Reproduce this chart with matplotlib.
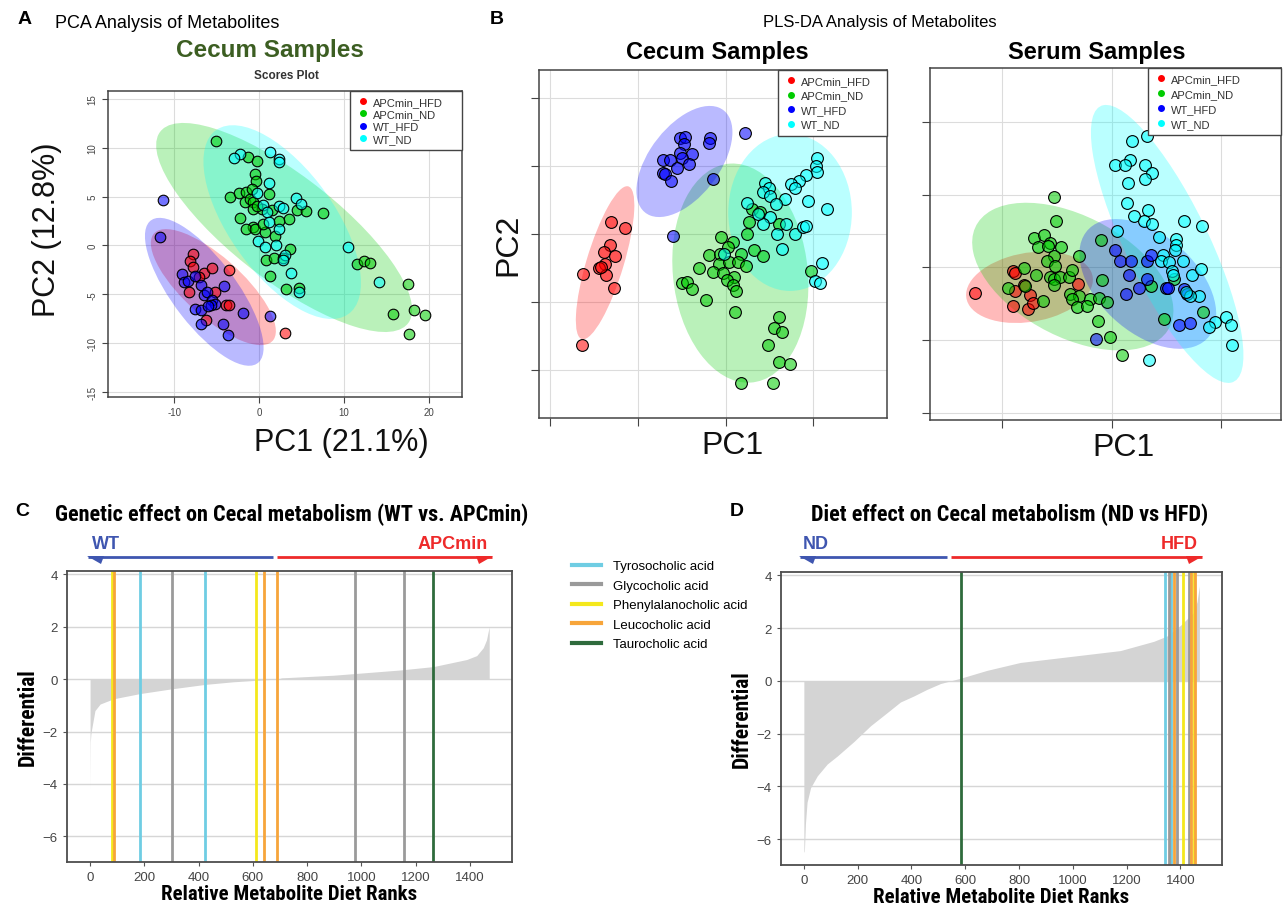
import matplotlib
matplotlib.use('Agg')
import matplotlib.pyplot as plt
from matplotlib.patches import Ellipse, Polygon
from matplotlib.lines import Line2D

plt.rcParams['font.family'] = ['Liberation Sans', 'DejaVu Sans']
plt.rcParams['axes.unicode_minus'] = False
NARROW = ['Roboto Condensed', 'DejaVu Sans']

W, H = 1286, 912

GROUPS = ['APCmin_HFD', 'APCmin_ND', 'WT_HFD', 'WT_ND']
GROUP_COLORS = ['#FF0000', '#00CC00', '#0000FF', '#00FFFF']

# ---- A: PCA, cecum ----
a_hfd_x = [-7.8, -8.1, -7.8, -6.5, -5.6, -3.5, -8.3, -5.2, -3.9, -3.5, -6.3, 3.1, -7.1]
a_hfd_y = [-0.85, -1.6, -2.2, -2.8, -2.3, -2.5, -4.8, -4.8, -6.1, -6.1, -7.6, -9.0, -3.2]
a_nd_x = [-5.1, -1.3, -0.3, -0.5, -0.4, -3.4, -2.4, -1.5, -1.7, -1.1, -0.7, 1.2, -0.7, 0.3, 1.5,
          4.5, 5.5, 7.5, 3.5, 2.4, -2.2, -0.7, -1.5, -0.5, 0.7, 1.9, 3.6, 0.8, 1.8, 2.8, 1.3,
          3.2, 4.7, 11.5, 12.3, 13.1, 17.5, 15.8, 18.2, 19.6, 17.7, -0.8, -0.2, 0.5]
a_nd_y = [10.7, 9.1, 8.6, 7.3, 6.6, 5.0, 5.4, 5.5, 4.4, 4.8, 4.4, 5.3, 3.7, 3.7, 3.6,
          3.6, 3.5, 3.3, 2.7, 2.5, 2.8, 1.9, 1.7, 1.7, 1.4, 1.0, -0.4, -1.5, -1.3, -1.3, -3.1,
          -4.5, -4.4, -1.9, -1.6, -1.8, -3.9, -7.0, -6.6, -7.1, -9.1, 5.8, 4.0, 2.2]
a_wthfd_x = [-11.3, -11.7, -9.1, -8.8, -8.4, -7.6, -6.9, -6.5, -6.1, -5.5, -5.2, -5.7, -7.5,
             -6.9, -4.1, -1.9, 1.3, -6.8, -4.3, -3.7, -6.0]
a_wthfd_y = [4.7, 0.85, -2.9, -3.7, -3.6, -3.1, -4.0, -5.1, -4.8, -5.6, -6.0, -6.1, -6.5,
             -6.6, -4.1, -6.9, -7.2, -8.0, -8.0, -9.2, -6.2]
a_wtnd_x = [-2.3, -2.9, 1.3, 2.4, 2.4, 1.2, 4.3, 4.9, 2.4, 2.8, 0.5, 0.9, 1.2, 2.4, -0.1,
            0.7, 2.0, 3.0, 3.7, 4.7, 10.5, 14.1, 2.8, -0.2]
a_wtnd_y = [9.4, 8.9, 9.6, 8.8, 8.5, 6.4, 4.9, 4.2, 4.0, 3.8, 4.1, 3.4, 2.4, 1.7, 0.5,
            -0.2, 0.0, -1.0, -2.8, -4.8, -0.2, -3.7, -1.5, 5.4]
# ellipses: (cx, cy, width, height, angle)
a_ellipses = [(-5.39, -4.26, 17.8, 6.4, -37), (2.95, 1.84, 35.2, 11.3, -33),
              (-6.46, -4.74, 19.3, 7.2, -48), (2.72, 2.39, 24.5, 11.7, -48)]

# ---- B: PLS-DA, cecum ----
bc_hfd_x = [-1.31, -1.15, -1.32, -1.39, -1.26, -1.38, -1.44, -1.63, -1.37, -1.27, -1.64, -1.42]
bc_hfd_y = [0.18, 0.08, -0.17, -0.27, -0.33, -0.45, -0.50, -0.59, -0.60, -0.80, -1.63, -0.49]
bc_nd_x = [-0.05, 0.08, 0.03, -0.19, -0.06, 0.18, -0.08, 0.04, 0.14, 0.23, -0.31, -0.14, -0.03,
           0.09, 0.01, 0.08, 0.12, -0.50, -0.44, -0.38, -0.22, 0.11, 0.32, 0.43, 0.24, 0.27,
           0.30, 0.39, 0.61, 0.97, 0.61, 0.55, 0.64, 0.48, 0.61, 0.73, 0.17, 0.54]
bc_nd_y = [-0.04, -0.12, -0.20, -0.31, -0.29, -0.29, -0.45, -0.42, -0.42, -0.47, -0.50, -0.56,
           -0.57, -0.64, -0.68, -0.75, -0.84, -0.72, -0.71, -0.81, -0.97, -1.15, -0.24, -0.33,
           0.00, 0.18, 0.37, 0.32, 0.15, -0.55, -1.23, -1.39, -1.44, -1.64, -1.88, -1.91, -2.19, -2.19]
bc_wthfd_x = [-0.52, -0.47, -0.48, -0.18, -0.19, 0.22, -0.52, -0.39, -0.71, -0.63, -0.50, -0.42,
              -0.56, -0.71, -0.69, -0.62, -0.15, -0.60]
bc_wthfd_y = [1.41, 1.42, 1.32, 1.41, 1.33, 1.48, 1.19, 1.17, 1.09, 1.09, 1.12, 1.03, 0.97,
              0.90, 0.88, 0.78, 0.80, -0.03]
bc_wtnd_x = [1.04, 1.03, 1.04, 0.92, 0.84, 0.75, 0.79, 0.45, 0.49, 0.42, 0.51, 0.68, 0.57, 0.94,
             1.15, 0.24, 0.50, 0.42, 0.69, 0.59, 0.79, 0.88, 0.92, 0.64, -0.02, 1.10, 1.02, 1.08, 0.37]
bc_wtnd_y = [1.11, 1.00, 0.91, 0.87, 0.78, 0.73, 0.68, 0.75, 0.67, 0.62, 0.56, 0.51, 0.44, 0.48,
             0.36, 0.46, 0.25, 0.15, 0.15, -0.01, 0.00, 0.10, 0.11, -0.23, -0.29, -0.43, -0.69, -0.72, 0.29]
bc_ellipses = [(-1.376, -0.426, 2.31, 0.43, 77), (0.167, -0.578, 3.23, 1.54, 94),
               (-0.471, 1.064, 1.77, 0.86, 64), (0.734, 0.314, 1.41, 2.31, 0)]

# ---- B: PLS-DA, serum ----
bs_hfd_x = [-1.25, -0.90, -0.88, -0.88, -0.80, -0.75, -0.90, -0.76, -0.72, -0.31]
bs_hfd_y = [-0.35, -0.05, -0.08, -0.33, -0.25, -0.38, -0.53, -0.58, -0.49, -0.23]
bs_nd_x = [-0.53, -0.51, -0.71, -0.62, -0.56, -0.67, -0.58, -0.46, -0.53, -0.59, -0.52, -0.30,
           -0.80, -0.69, -0.56, -0.53, -0.47, -0.39, -0.36, -0.53, -0.95, -0.79, -0.63, -0.38,
           -0.30, -0.36, -0.32, -0.20, -0.22, -0.11, -0.04, -0.09, -0.10, -0.12, -0.01, 0.10,
           0.36, 0.48, 0.57, 0.84]
bs_nd_y = [0.96, 0.63, 0.40, 0.44, 0.34, 0.28, 0.29, 0.28, 0.15, 0.09, 0.02, 0.15, -0.01, -0.11,
           -0.14, -0.16, -0.14, -0.14, -0.04, -0.25, -0.28, -0.26, -0.47, -0.37, -0.39, -0.44,
           -0.54, -0.43, -0.53, -0.42, -0.48, -0.18, 0.38, -0.74, -0.96, -1.21, -0.26, -0.71,
           -0.16, -0.61]
bs_wthfd_x = [0.03, 0.08, 0.18, 0.32, 0.36, 0.16, 0.32, 0.25, 0.13, 0.50, 0.52, 0.66, 0.69,
              0.62, 0.72, -0.14]
bs_wthfd_y = [0.24, 0.09, 0.08, 0.09, 0.17, -0.10, -0.16, -0.29, -0.37, -0.28, -0.28, -0.30,
              -0.37, -0.79, -0.76, -0.98]
bs_wtnd_x = [0.32, 0.19, 0.17, 0.03, 0.12, 0.31, 0.37, 0.31, 0.15, 0.14, 0.33, 0.21, 0.30, 0.37,
             0.66, 0.83, 0.05, 0.43, 0.59, 0.59, 0.58, 0.47, 0.45, 0.53, 0.65, 0.55, 0.56, 0.74,
             0.82, 0.80, 0.72, 0.68, 0.95, 1.05, 0.89, 1.09, 1.10, 0.34]
bs_wtnd_y = [1.80, 1.73, 1.48, 1.41, 1.41, 1.41, 1.30, 1.22, 1.16, 0.89, 0.79, 0.70, 0.64, 0.59,
             0.64, 0.57, 0.50, 0.41, 0.39, 0.30, 0.24, 0.17, 0.09, 0.07, 0.09, -0.05, -0.11, -0.11,
             -0.02, -0.40, -0.40, -0.34, -0.75, -0.69, -0.82, -0.79, -1.07, -1.28]
bs_ellipses = [(-0.75, -0.275, 1.21, 0.92, 26), (-0.354, -0.128, 2.35, 1.41, -51),
               (0.332, -0.229, 1.92, 1.03, -64), (0.509, 0.321, 3.99, 0.80, -73)]

# ---- C / D: ranked differentials ----
c_rank = [0, 1, 3, 6, 18, 37, 86, 184, 300, 424, 528, 650, 690, 706, 896, 1019, 1142, 1265,
          1388, 1425, 1449, 1461, 1471]
c_diff = [-4.2, -2.4, -2.1, -1.9, -1.2, -0.95, -0.75, -0.55, -0.37, -0.2, -0.1, -0.02, 0.0,
          0.05, 0.15, 0.25, 0.35, 0.48, 0.75, 0.9, 1.2, 1.5, 2.0]
d_rank = [0, 2, 6, 12, 25, 50, 87, 124, 186, 248, 310, 359, 409, 458, 508, 545, 582, 681, 805,
          929, 1053, 1177, 1301, 1350, 1400, 1450, 1462, 1471]
d_diff = [-6.5, -6.45, -5.4, -4.6, -4.05, -3.6, -3.15, -2.85, -2.3, -1.7, -1.2, -0.8, -0.57,
          -0.32, -0.1, 0.0, 0.1, 0.4, 0.7, 0.85, 1.0, 1.15, 1.5, 1.7, 2.1, 2.6, 3.0, 3.6]

ACIDS = ['Tyrosocholic acid', 'Glycocholic acid', 'Phenylalanocholic acid',
         'Leucocholic acid', 'Taurocholic acid']
ACID_COLORS = ['#6fcde3', '#9a9a9a', '#f4e81c', '#f7a53a', '#2f6b3c']
c_acid_ranks = [[185, 424], [302, 978, 1158], [80, 612], [87, 642, 689], [1264]]
d_acid_ranks = [[1342, 1366], [1357, 1388, 1431], [1410, 1450], [1378, 1441, 1456], [585]]


fig = plt.figure(figsize=(W / 100, H / 100), dpi=100)


def px_axes(l, t, r, b):
    return fig.add_axes([l / W, 1 - b / H, (r - l) / W, (b - t) / H])


def ftext(x, y, s, **kw):
    fig.text(x / W, 1 - y / H, s, **kw)


def scores_panel(ax, xs, ys, ellipses, leg_box, size=60, spacing=0.3):
    for (cx, cy, w, h, ang), col in zip(ellipses, GROUP_COLORS):
        ax.add_patch(Ellipse((cx, cy), w, h, angle=ang, facecolor=col, alpha=0.27,
                             lw=0, zorder=1))
    for x, y, col in zip(xs, ys, GROUP_COLORS):
        ax.scatter(x, y, s=size, facecolor=matplotlib.colors.to_rgba(col, 0.55),
                   edgecolor='black', linewidth=0.8, zorder=3)
    ax.grid(True, color='#dcdcdc', lw=0.8, zorder=0)
    ax.set_axisbelow(True)
    for sp in ax.spines.values():
        sp.set_color('#444444')
        sp.set_linewidth(1.1)
    handles = [Line2D([], [], marker='o', ls='', color=c, markersize=4) for c in GROUP_COLORS]
    leg = ax.legend(handles, GROUPS, loc='upper left', bbox_to_anchor=leg_box, mode='expand',
                    borderaxespad=0, fancybox=False, edgecolor='#444444', framealpha=1,
                    fontsize=8, handletextpad=0.3, labelspacing=spacing,
                    borderpad=0.55, handlelength=1.2)
    leg.get_frame().set_linewidth(1.0)
    for t in leg.get_texts():
        t.set_color('#333333')


# ---- Panel A ----
axA = px_axes(108, 92, 462, 398)
scores_panel(axA, [a_hfd_x, a_nd_x, a_wthfd_x, a_wtnd_x],
             [a_hfd_y, a_nd_y, a_wthfd_y, a_wtnd_y], a_ellipses,
             (0.684, 1.0, 0.316, 0.0), size=58, spacing=0.2)
axA.set_xlim(-17.8, 23.9)
axA.set_ylim(-15.5, 15.8)
axA.set_xticks([-10, 0, 10, 20])
axA.set_yticks([-15, -10, -5, 0, 5, 10, 15])
axA.tick_params(labelsize=7, colors='#444444', length=4)
for lab in axA.get_yticklabels():
    lab.set_rotation(90)
    lab.set_va('center')
axA.set_xlabel('PC1 (21.1%)', fontsize=22, color='#111111')
axA.xaxis.set_label_coords(0.66, -0.097)
axA.set_ylabel('PC2 (12.8%)', fontsize=22, color='#111111')
axA.yaxis.set_label_coords(-0.13, 0.55)
ftext(18, 20, 'A', fontsize=14, fontweight='bold', va='center')
ftext(55, 24, 'PCA Analysis of Metabolites', fontsize=13, va='center')
ftext(270, 50, 'Cecum Samples', fontsize=17.5, fontweight='bold', color='#3c5e22',
      ha='center', va='center')
ftext(286, 76, 'Scores Plot', fontsize=8.5, fontweight='bold', color='#333333',
      ha='center', va='center')

# ---- Panel B ----
axBc = px_axes(539, 71, 887, 419)
scores_panel(axBc, [bc_hfd_x, bc_nd_x, bc_wthfd_x, bc_wtnd_x],
             [bc_hfd_y, bc_nd_y, bc_wthfd_y, bc_wtnd_y], bc_ellipses,
             (0.687, 1.0, 0.313, 0.0), size=72, spacing=0.4)
axBc.set_xlim(-2.13, 1.84)
axBc.set_ylim(-2.71, 2.41)
axBc.set_xticks([-2, -1, 0, 1])
axBc.set_yticks([-2, -1, 0, 1, 2])

axBs = px_axes(930, 69, 1281, 421)
scores_panel(axBs, [bs_hfd_x, bs_nd_x, bs_wthfd_x, bs_wtnd_x],
             [bs_hfd_y, bs_nd_y, bs_wthfd_y, bs_wtnd_y], bs_ellipses,
             (0.621, 1.0, 0.379, 0.0), size=72, spacing=0.45)
axBs.set_xlim(-1.66, 1.55)
axBs.set_ylim(-2.10, 2.74)
axBs.set_xticks([-1, 0, 1])
axBs.set_yticks([-2, -1, 0, 1, 2])

for ax, xc in ((axBc, 0.557), (axBs, 0.55)):
    ax.tick_params(labelbottom=False, labelleft=False, length=6, color='#444444')
    ax.set_xlabel('PC1', fontsize=23, color='#111111')
    ax.xaxis.set_label_coords(xc, -0.035)
axBc.set_ylabel('PC2', fontsize=23, labelpad=5, color='#111111')

ftext(490, 20, 'B', fontsize=14, fontweight='bold', va='center')
ftext(880, 22, 'PLS-DA Analysis of Metabolites', fontsize=12, ha='center', va='center')
ftext(717, 52, 'Cecum Samples', fontsize=17, fontweight='bold', ha='center', va='center')
ftext(1097, 52, 'Serum Samples', fontsize=17, fontweight='bold', ha='center', va='center')


# ---- Panels C and D ----
def rank_panel(ax, ranks, diffs, acid_ranks):
    ax.fill_between(ranks, diffs, 0, color='#d4d4d4', lw=0, zorder=1)
    for rks, col in zip(acid_ranks, ACID_COLORS):
        for r in rks:
            ax.axvline(r, color=col, lw=2.0, zorder=2)
    ax.set_xlim(-85, 1555)
    ax.set_ylim(-6.98, 4.13)
    ax.set_xticks([0, 200, 400, 600, 800, 1000, 1200, 1400])
    ax.set_yticks([-6, -4, -2, 0, 2, 4])
    ax.set_yticklabels(['\u22126', '\u22124', '\u22122', '0', '2', '4'])
    ax.yaxis.grid(True, color='#d6d6d6', lw=1.0, zorder=0)
    ax.set_axisbelow(True)
    ax.tick_params(labelsize=9.5, colors='#555555', length=3)
    for lab in ax.get_xticklabels() + ax.get_yticklabels():
        lab.set_color('#444444')
    for sp in ax.spines.values():
        sp.set_color('#4d4d4d')
        sp.set_linewidth(1.3)
    ax.set_xlabel('Relative Metabolite Diet Ranks', fontsize=15, fontweight='bold',
                  family=NARROW, labelpad=1)
    ax.set_ylabel('Differential', fontsize=15.5, fontweight='bold', family=NARROW, labelpad=3)


axC = px_axes(67, 572, 512, 863)
rank_panel(axC, c_rank, c_diff, c_acid_ranks)
axD = px_axes(781, 573, 1222, 866)
rank_panel(axD, d_rank, d_diff, d_acid_ranks)

ftext(15, 512, 'C', fontsize=14, fontweight='bold', va='center')
ftext(292, 515, 'Genetic effect on Cecal metabolism (WT vs. APCmin)', fontsize=16,
      fontweight='bold', family=NARROW, ha='center', va='center')
ftext(730, 512, 'D', fontsize=14, fontweight='bold', va='center')
ftext(1010, 515, 'Diet effect on Cecal metabolism (ND vs HFD)', fontsize=16,
      fontweight='bold', family=NARROW, ha='center', va='center')

# legend for acids
handles = [Line2D([], [], color=c, lw=3) for c in ACID_COLORS]
fig.legend(handles, ACIDS, loc='upper left', bbox_to_anchor=(572 / W, 1 - 561 / H),
           frameon=False, fontsize=9.5, handlelength=2.2, handletextpad=0.9,
           labelspacing=0.55, borderaxespad=0, borderpad=0)

# direction arrows (overlay in pixel coordinates)
ov = fig.add_axes([0, 0, 1, 1], zorder=10)
ov.set_xlim(0, W)
ov.set_ylim(H, 0)
ov.axis('off')
BLUE, RED = '#3f56b0', '#ee2a2a'
for (x0, x1, xm, lbl_l, lbl_r, xl, xr) in [(88, 492, 275, 'WT', 'APCmin', 92, 488),
                                           (800, 1202, 949, 'ND', 'HFD', 803, 1198)]:
    y = 558
    ov.plot([x0, xm - 2], [y, y], color=BLUE, lw=2, solid_capstyle='butt')
    ov.plot([xm + 2, x1], [y, y], color=RED, lw=2, solid_capstyle='butt')
    ov.add_patch(Polygon([(x0 - 1, y - 1), (x0 + 16, y - 1), (x0 + 13, y + 7)],
                         closed=True, color=BLUE, lw=0))
    ov.add_patch(Polygon([(x1 + 1, y - 1), (x1 - 16, y - 1), (x1 - 13, y + 7)],
                         closed=True, color=RED, lw=0))
    ov.text(xl, 545, lbl_l, color=BLUE, fontsize=13, fontweight='bold', ha='left', va='center')
    ov.text(xr, 545, lbl_r, color=RED, fontsize=13, fontweight='bold', ha='right', va='center')

fig.savefig('out.png', dpi=100, facecolor='white')
